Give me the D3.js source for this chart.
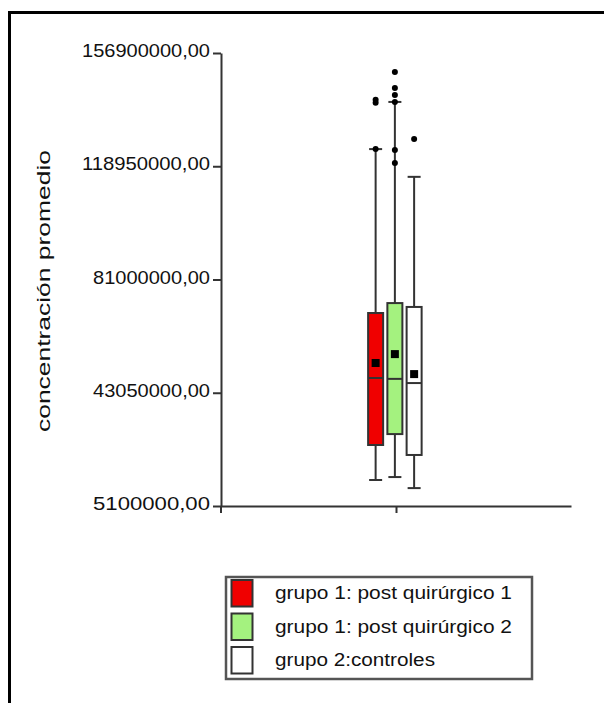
<!DOCTYPE html>
<html><head><meta charset="utf-8">
<script src="https://cdn.jsdelivr.net/npm/d3@7"></script>
<style>body{margin:0;background:#fff}svg{display:block}text{font-family:"Liberation Sans",Arial,sans-serif;fill:#111}</style>
</head><body>
<svg id="c" width="604" height="703"></svg>
<script>
const groups = ["grupo 1: post quirúrgico 1","grupo 1: post quirúrgico 2","grupo 2:controles"];
const colors = ["#f00000","#a4f27f","#ffffff"];
const q1 = [25540000, 29200000, 22200000];
const median = [47990000, 47700000, 46300000];
const q3 = [69770000, 73100000, 71800000];
const whiskLow = [13810000, 14800000, 11100000];
const whiskHigh = [124700000, 140500000, 115400000];
const means = [53020000, 56000000, 49300000];
const outliers = [[141200000, 140200000, 124700000],[150500000,145200000,142800000,140500000,124400000,120000000],[128100000]];
const yTicks = [5100000, 43050000, 81000000, 118950000, 156900000];
const yTickLabels = ["5100000,00","43050000,00","81000000,00","118950000,00","156900000,00"];
const yTitle = "concentración promedio";

const svg = d3.select("#c");
const ink = "#333";
// frame
svg.append("line").attr("x1",9.5).attr("x2",9.5).attr("y1",11).attr("y2",703).attr("stroke","#000").attr("stroke-width",3);
svg.append("line").attr("x1",8).attr("x2",604).attr("y1",12.5).attr("y2",12.5).attr("stroke","#000").attr("stroke-width",3);

const y = d3.scaleLinear().domain([5100000,156900000]).range([506,53]);
const x = d3.scaleBand().domain(groups).range([366,423.75]).paddingInner(0.22).paddingOuter(0.11);
const xa = d3.scalePoint().domain([""]).range([221,571]).padding(0.5);

const gy = svg.append("g").attr("transform","translate(221,0)")
  .call(d3.axisLeft(y).tickValues(yTicks).tickSize(8).tickSizeOuter(0).tickFormat((d,i)=>yTickLabels[i]));
gy.select(".domain").attr("stroke",ink).attr("stroke-width",2);
gy.selectAll(".tick line").attr("stroke",ink).attr("stroke-width",2);
gy.selectAll(".tick text").attr("font-size",18.5).attr("x",-11).attr("dy","0.2em")
  .each(function(d,i){ d3.select(this).attr("textLength", yTickLabels[i].length===12?128:117).attr("lengthAdjust","spacingAndGlyphs"); })
  .attr("fill","#111");
gy.append("line").attr("x1",0).attr("x2",0).attr("y1",506).attr("y2",513).attr("stroke",ink).attr("stroke-width",2);

const gx = svg.append("g").attr("transform","translate(0,506)")
  .call(d3.axisBottom(xa).tickSize(7).tickSizeOuter(0));
gx.select(".domain").attr("stroke",ink).attr("stroke-width",2);
gx.selectAll(".tick line").attr("stroke",ink).attr("stroke-width",2);

svg.append("text").attr("transform","translate(50,291) rotate(-90)").attr("text-anchor","middle")
  .attr("font-size",18.5).attr("textLength",282).attr("lengthAdjust","spacingAndGlyphs").text(yTitle);

const bw = x.bandwidth();
groups.forEach((g,i)=>{
  const cx = x(g)+bw/2;
  const G = svg.append("g");
  G.append("line").attr("x1",cx).attr("x2",cx).attr("y1",y(whiskLow[i])).attr("y2",y(q1[i])).attr("stroke",ink).attr("stroke-width",2);
  G.append("line").attr("x1",cx).attr("x2",cx).attr("y1",y(q3[i])).attr("y2",y(whiskHigh[i])).attr("stroke",ink).attr("stroke-width",2);
  [whiskLow[i],whiskHigh[i]].forEach(v=>G.append("line").attr("x1",cx-bw/2+1).attr("x2",cx+bw/2-1).attr("y1",y(v)).attr("y2",y(v)).attr("stroke",ink).attr("stroke-width",2));
  G.append("rect").attr("x",x(g)).attr("width",bw).attr("y",y(q3[i])).attr("height",y(q1[i])-y(q3[i]))
    .attr("fill",colors[i]).attr("stroke",ink).attr("stroke-width",2);
  G.append("line").attr("x1",x(g)).attr("x2",x(g)+bw).attr("y1",y(median[i])).attr("y2",y(median[i])).attr("stroke",ink).attr("stroke-width",2);
  G.append("rect").attr("x",cx-4).attr("y",y(means[i])-4).attr("width",8).attr("height",8).attr("fill","#000");
  outliers[i].forEach(v=>G.append("circle").attr("cx",cx).attr("cy",y(v)).attr("r",3).attr("fill","#000"));
});

// legend
const lg = svg.append("g");
lg.append("rect").attr("x",226).attr("y",577).attr("width",306).attr("height",102).attr("fill","#fff").attr("stroke","#555").attr("stroke-width",2.5);
const rowY = [580, 613.5, 647];
const lw = [237, 237, 160];
groups.forEach((g,i)=>{
  lg.append("rect").attr("x",231.5).attr("y",rowY[i]).attr("width",21).attr("height",26.5).attr("fill",colors[i]).attr("stroke","#333").attr("stroke-width",2);
  lg.append("text").attr("x",275).attr("y",rowY[i]+19).attr("font-size",18).attr("textLength",lw[i]).attr("lengthAdjust","spacingAndGlyphs").text(g);
});
</script>
</body></html>
